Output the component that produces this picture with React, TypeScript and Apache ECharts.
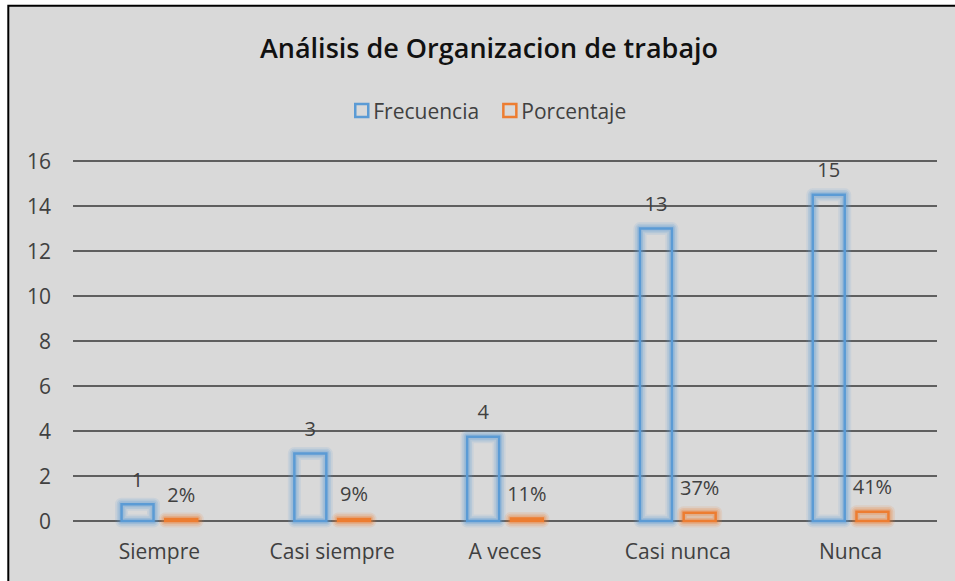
import React, { useEffect, useRef } from "react";
import * as echarts from "echarts";

const categories = ["Siempre", "Casi siempre", "A veces", "Casi nunca", "Nunca"];
const frecuenciaValues = [0.75, 3, 3.75, 13, 14.5];
const frecuenciaLabels = ["1", "3", "4", "13", "15"];
const porcentajeValues = [0.02, 0.09, 0.11, 0.37, 0.41];
const porcentajeLabels = ["2%", "9%", "11%", "37%", "41%"];
const yTicks = { min: 0, max: 16, interval: 2 };

const FONT = "'Open Sans', sans-serif";
const TEXT = "#404040";
const BLUE = "#5b9bd5";
const ORANGE = "#ed7d31";

function makeRender(side: number, color: string, rgb: string, labels: string[]) {
  return (params: any, api: any) => {
    const i = api.value(0);
    const v = api.value(1);
    const base = api.coord([i, 0]);
    const top = api.coord([i, v]);
    const band = api.size([1, 0])[0];
    const bw = band * 0.185;
    const gap = band * 0.068;
    const cx = base[0] + (side * (bw + gap)) / 2;
    let h = base[1] - top[1];
    if (h < 2) h = 2;
    const shape = { x: cx - bw / 2, y: base[1] - h, width: bw, height: h };
    const glow = (lw: number, a: number) => ({
      type: "rect",
      shape,
      style: { fill: "none", stroke: `rgba(${rgb},${a})`, lineWidth: lw, lineJoin: "round" },
    });
    return {
      type: "group",
      children: [
        glow(13, 0.13),
        glow(9.5, 0.18),
        glow(6, 0.26),
        {
          type: "rect",
          shape,
          style: { fill: "none", stroke: color, lineWidth: 2.5 },
        },
        {
          type: "text",
          style: {
            text: labels[params.dataIndex],
            x: cx,
            y: shape.y - 25,
            align: "center",
            verticalAlign: "middle",
            fill: TEXT,
            font: `20px ${FONT}`,
          },
        },
      ],
    };
  };
}

export default function App() {
  const ref = useRef<HTMLDivElement>(null);
  useEffect(() => {
    if (!ref.current) return;
    const chart = echarts.init(ref.current, undefined, { renderer: "svg" });
    chart.setOption({
      animation: false,
      backgroundColor: "#ffffff",
      textStyle: { fontFamily: FONT },
      graphic: [
        {
          type: "rect",
          z: -10,
          silent: true,
          shape: { x: 8.3, y: 5.7, width: 1000, height: 1000 },
          style: { fill: "#d9d9d9", stroke: "#000000", lineWidth: 2 },
        },
      ],
      title: {
        text: "Análisis de Organizacion de trabajo",
        left: 484,
        textAlign: "center",
        top: 29,
        textStyle: { fontFamily: FONT, fontSize: 27, fontWeight: 600, color: "#111111" },
      },
      legend: {
        left: 349,
        top: 95,
        itemWidth: 13,
        itemHeight: 13,
        itemGap: 23,
        icon: "rect",
        textStyle: { fontFamily: FONT, fontSize: 21, color: TEXT },
        data: [
          { name: "Frecuencia", itemStyle: { color: "rgba(0,0,0,0)", borderColor: BLUE, borderWidth: 2.5 } },
          { name: "Porcentaje", itemStyle: { color: "rgba(0,0,0,0)", borderColor: ORANGE, borderWidth: 2.5 } },
        ],
      },
      grid: { left: 73, right: 18, top: 161, bottom: 60, containLabel: false },
      xAxis: {
        type: "category",
        data: categories,
        axisLine: { show: false },
        axisTick: { show: false },
        axisLabel: { color: TEXT, fontFamily: FONT, fontSize: 21, margin: 19 },
      },
      yAxis: {
        type: "value",
        min: yTicks.min,
        max: yTicks.max,
        interval: yTicks.interval,
        axisLine: { show: false },
        axisTick: { show: false },
        axisLabel: { color: TEXT, fontFamily: FONT, fontSize: 21, margin: 22 },
        splitLine: { lineStyle: { color: "#5f5f5f", width: 2 } },
      },
      series: [
        {
          name: "Frecuencia",
          type: "custom",
          itemStyle: { color: BLUE },
          encode: { x: 0, y: 1 },
          data: frecuenciaValues.map((v, i) => [i, v]),
          renderItem: makeRender(-1, BLUE, "91,155,213", frecuenciaLabels),
          z: 3,
        },
        {
          name: "Porcentaje",
          type: "custom",
          itemStyle: { color: ORANGE },
          encode: { x: 0, y: 1 },
          data: porcentajeValues.map((v, i) => [i, v]),
          renderItem: makeRender(1, ORANGE, "237,125,49", porcentajeLabels),
          z: 3,
        },
      ],
    });
    return () => chart.dispose();
  }, []);
  return (
    <div
      ref={ref}
      style={{ position: "fixed", left: 0, top: 0, width: 955, height: 581, background: "#fff" }}
    />
  );
}
